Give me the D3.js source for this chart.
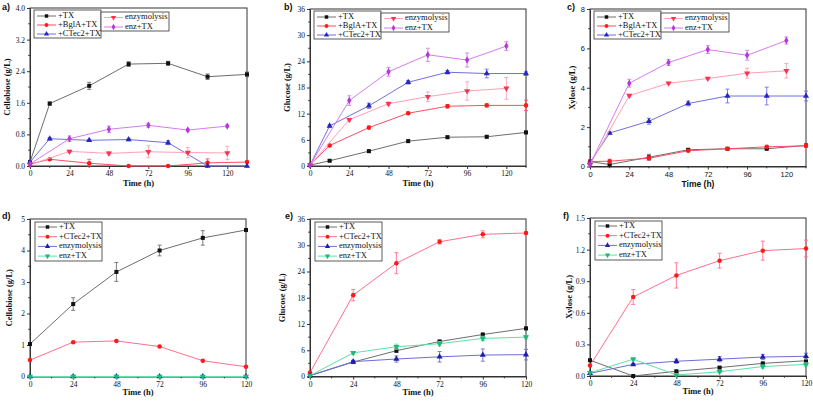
<!DOCTYPE html>
<html><head><meta charset="utf-8">
<script src="https://cdn.jsdelivr.net/npm/d3@7"></script>
<style>body{margin:0;background:#fff}svg{display:block}</style>
</head><body>
<svg id="chart" width="813" height="401"></svg>
<script>
// ---------- data ----------
const timeSparse = [0, 12, 36, 60, 84, 108, 132];
const timeDaily = [0, 24, 48, 72, 96, 120];
const xTickLabels = [0, 24, 48, 72, 96, 120];
const seriesTop = ["+TX", "+BglA+TX", "+CTec2+TX", "enzymolysis", "enz+TX"];
const seriesBottom = ["+TX", "+CTec2+TX", "enzymolysis", "enz+TX"];

// a) cellobiose
const aTX = [0.10, 1.58, 2.03, 2.58, 2.60, 2.26, 2.32];
const aTXErr = [0.02, 0.04, 0.09, 0.06, 0.05, 0.07, 0.06];
const aBglA = [0.05, 0.17, 0.07, 0.00, 0.00, 0.08, 0.10];
const aBglAErr = [0, 0.02, 0.10, 0, 0, 0.10, 0.02];
const aCTec2 = [0.10, 0.69, 0.65, 0.67, 0.59, 0.00, 0.00];
const aCTec2Err = [0, 0.03, 0.02, 0.03, 0.05, 0, 0];
const aEnzy = [0.03, 0.37, 0.32, 0.36, 0.34, 0.33];
const aEnzyErr = [0, 0.03, 0.04, 0.15, 0.13, 0.17];
const aEnzTX = [0.05, 0.69, 0.93, 1.03, 0.91, 1.01];
const aEnzTXErr = [0, 0.07, 0.08, 0.05, 0.03, 0.03];
const aYTicks = [0, 0.8, 1.6, 2.4, 3.2, 4.0];

// b) glucose
const bTX = [0.2, 1.2, 3.4, 5.7, 6.6, 6.7, 7.7];
const bTXErr = [0, 0.2, 0.3, 0.3, 0.3, 0.3, 0.3];
const bBglA = [0.2, 4.7, 8.8, 12.1, 13.7, 13.9, 13.9];
const bBglAErr = [0, 0.3, 0.3, 0.3, 0.4, 0.3, 1.2];
const bCTec2 = [0.2, 9.2, 13.8, 19.2, 21.5, 21.2, 21.2];
const bCTec2Err = [0, 0.3, 0.6, 0.4, 0.4, 1.0, 0.4];
const bEnzy = [0.2, 10.6, 14.3, 15.9, 17.2, 17.8];
const bEnzyErr = [0, 0.3, 0.4, 1.1, 2.1, 2.5];
const bEnzTX = [0.2, 15.0, 21.6, 25.5, 24.3, 27.5];
const bEnzTXErr = [0, 1.1, 1.0, 1.5, 1.6, 1.0];
const bYTicks = [0, 6, 12, 18, 24, 30, 36];

// c) xylose
const cTX = [0.25, 0.10, 0.47, 0.85, 0.90, 0.90, 1.07];
const cTXErr = [0, 0.03, 0.15, 0.05, 0.04, 0.05, 0.05];
const cBglA = [0.25, 0.27, 0.42, 0.80, 0.90, 1.00, 1.05];
const cBglAErr = [0, 0.1, 0.08, 0.05, 0.04, 0.04, 0.05];
const cCTec2 = [0.20, 1.70, 2.30, 3.20, 3.58, 3.58, 3.58];
const cCTec2Err = [0, 0.05, 0.15, 0.12, 0.35, 0.45, 0.25];
const cEnzy = [0.10, 3.60, 4.23, 4.47, 4.74, 4.86];
const cEnzyErr = [0, 0.05, 0.06, 0.06, 0.25, 0.37];
const cEnzTX = [0.10, 4.23, 5.28, 5.94, 5.65, 6.40];
const cEnzTXErr = [0, 0.20, 0.15, 0.20, 0.25, 0.18];
const cYTicks = [0, 2, 4, 6, 8];

// d) cellobiose
const dTX = [1.03, 2.30, 3.32, 4.00, 4.40, 4.65];
const dTXErr = [0, 0.20, 0.30, 0.17, 0.23, 0.05];
const dCTec2 = [0.52, 1.09, 1.13, 0.95, 0.50, 0.31];
const dCTec2Err = [0, 0.02, 0.02, 0.02, 0.02, 0.02];
const dEnzy = [0, 0, 0, 0, 0, 0];
const dEnzTX = [0, 0, 0, 0, 0, 0];
const dYTicks = [0, 1, 2, 3, 4, 5];

// e) glucose
const eTX = [0.2, 3.3, 5.9, 8.0, 9.6, 11.0];
const eTXErr = [0, 0.2, 0.4, 0.3, 0.3, 0.3];
const eCTec2 = [0.9, 18.6, 25.9, 30.8, 32.5, 32.8];
const eCTec2Err = [0, 1.3, 2.4, 0.5, 0.8, 0.3];
const eEnzy = [0.2, 3.4, 4.0, 4.5, 4.9, 5.0];
const eEnzyErr = [0, 0.3, 0.7, 1.2, 1.4, 1.2];
const eEnzTX = [0.2, 5.4, 6.8, 7.5, 8.7, 9.0];
const eEnzTXErr = [0, 0.3, 0.6, 0.5, 0.5, 0.4];
const eYTicks = [0, 6, 12, 18, 24, 30, 36];

// f) xylose
const fTX = [0.15, 0.00, 0.045, 0.08, 0.12, 0.145];
const fTXErr = [0, 0, 0.01, 0.01, 0.01, 0.01];
const fCTec2 = [0.10, 0.75, 0.955, 1.095, 1.19, 1.21];
const fCTec2Err = [0, 0.07, 0.12, 0.07, 0.09, 0.08];
const fEnzy = [0.025, 0.11, 0.14, 0.16, 0.18, 0.187];
const fEnzyErr = [0, 0.01, 0.02, 0.025, 0.025, 0.03];
const fEnzTX = [0.03, 0.16, 0.01, 0.04, 0.09, 0.11];
const fEnzTXErr = [0, 0.015, 0.005, 0.01, 0.015, 0.015];
const fYTicks = [0, 0.3, 0.6, 0.9, 1.2, 1.5];

// ---------- styles ----------
const styleTop = {
  "+TX": {line: "#6e6e6e", mark: "#111", sym: d3.symbolSquare},
  "+BglA+TX": {line: "#ff4d66", mark: "#ff1a1a", sym: d3.symbolCircle},
  "+CTec2+TX": {line: "#7070e0", mark: "#2626c0", sym: d3.symbolTriangle},
  "enzymolysis": {line: "#ffa0b4", mark: "#ff3050", sym: "down"},
  "enz+TX": {line: "#d47cf0", mark: "#b23ad6", sym: d3.symbolDiamond}
};
const styleBottom = {
  "+TX": {line: "#6e6e6e", mark: "#111", sym: d3.symbolSquare},
  "+CTec2+TX": {line: "#ff6f90", mark: "#ff1a1a", sym: d3.symbolCircle},
  "enzymolysis": {line: "#6d6dd8", mark: "#1e1ea6", sym: d3.symbolTriangle},
  "enz+TX": {line: "#5fe0a8", mark: "#1fb878", sym: "down"}
};

function ser(name, x, y, e) { return {name, x, y, e}; }

const panels = [
  {label: "a)", lx: 2, ly: 10, left: 30, right: 247, top: 8, bottom: 166, xMax: 132,
   yTicks: aYTicks, fmt: d3.format(".1f"), yTitle: "Cellobiose (g/L)", yTitleX: 8, sans: false, style: styleTop, top3: true,
   series: [ser("+TX", timeSparse, aTX, aTXErr), ser("+BglA+TX", timeSparse, aBglA, aBglAErr),
            ser("+CTec2+TX", timeSparse, aCTec2, aCTec2Err), ser("enzymolysis", timeDaily, aEnzy, aEnzyErr),
            ser("enz+TX", timeDaily, aEnzTX, aEnzTXErr)]},
  {label: "b)", lx: 284, ly: 10, left: 310, right: 526, top: 9, bottom: 166, xMax: 132,
   yTicks: bYTicks, fmt: d3.format("d"), yTitle: "Glucose (g/L)", yTitleX: 288, sans: false, style: styleTop, top3: true,
   series: [ser("+TX", timeSparse, bTX, bTXErr), ser("+BglA+TX", timeSparse, bBglA, bBglAErr),
            ser("+CTec2+TX", timeSparse, bCTec2, bCTec2Err), ser("enzymolysis", timeDaily, bEnzy, bEnzyErr),
            ser("enz+TX", timeDaily, bEnzTX, bEnzTXErr)]},
  {label: "c)", lx: 567, ly: 10, left: 590, right: 806, top: 9, bottom: 166.5, xMax: 132,
   yTicks: cYTicks, fmt: d3.format("d"), yTitle: "Xylose (g/L)", yTitleX: 573, sans: true, style: styleTop, top3: true,
   series: [ser("+TX", timeSparse, cTX, cTXErr), ser("+BglA+TX", timeSparse, cBglA, cBglAErr),
            ser("+CTec2+TX", timeSparse, cCTec2, cCTec2Err), ser("enzymolysis", timeDaily, cEnzy, cEnzyErr),
            ser("enz+TX", timeDaily, cEnzTX, cEnzTXErr)]},
  {label: "d)", lx: 2, ly: 219, left: 30, right: 246, top: 219, bottom: 376.5, xMax: 120,
   yTicks: dYTicks, fmt: d3.format("d"), yTitle: "Cellobiose (g/L)", yTitleX: 10, sans: false, style: styleBottom, top3: false,
   series: [ser("+TX", timeDaily, dTX, dTXErr), ser("+CTec2+TX", timeDaily, dCTec2, dCTec2Err),
            ser("enzymolysis", timeDaily, dEnzy, null), ser("enz+TX", timeDaily, dEnzTX, null)]},
  {label: "e)", lx: 285, ly: 219, left: 310, right: 526, top: 219, bottom: 376.5, xMax: 120,
   yTicks: eYTicks, fmt: d3.format("d"), yTitle: "Glucose (g/L)", yTitleX: 283, sans: false, style: styleBottom, top3: false,
   series: [ser("+TX", timeDaily, eTX, eTXErr), ser("+CTec2+TX", timeDaily, eCTec2, eCTec2Err),
            ser("enzymolysis", timeDaily, eEnzy, eEnzyErr), ser("enz+TX", timeDaily, eEnzTX, eEnzTXErr)]},
  {label: "f)", lx: 563, ly: 219, left: 590, right: 806, top: 218, bottom: 376, xMax: 120,
   yTicks: fYTicks, fmt: d3.format(".1f"), yTitle: "Xylose (g/L)", yTitleX: 570, sans: false, style: styleBottom, top3: false,
   series: [ser("+TX", timeDaily, fTX, fTXErr), ser("+CTec2+TX", timeDaily, fCTec2, fCTec2Err),
            ser("enzymolysis", timeDaily, fEnzy, fEnzyErr), ser("enz+TX", timeDaily, fEnzTX, fEnzTXErr)]}
];

const svg = d3.select("#chart");
const SERIF = "'Liberation Serif','Times New Roman',serif";
const SANS = "'Liberation Sans',Arial,sans-serif";

function symPath(sym, size) {
  if (sym === "down") return d3.symbol(d3.symbolTriangle, size)();
  return d3.symbol(sym, size)();
}
function drawMarker(g, sym, x, y, color, size) {
  return g.append("path").attr("d", symPath(sym, size)).attr("fill", color)
    .attr("transform", `translate(${x},${y})` + (sym === "down" ? " rotate(180)" : ""));
}

panels.forEach(P => {
  const g = svg.append("g");
  const x = d3.scaleLinear().domain([0, P.xMax]).range([P.left, P.right]);
  const yMax = P.yTicks[P.yTicks.length - 1];
  const y = d3.scaleLinear().domain([0, yMax]).range([P.bottom, P.top]);

  // frame
  g.append("rect").attr("x", P.left).attr("y", P.top).attr("width", P.right - P.left)
    .attr("height", P.bottom - P.top).attr("fill", "none").attr("stroke", "#333").attr("stroke-width", 1);

  // x axis
  const xAx = d3.axisBottom(x).tickValues(xTickLabels).tickSize(3).tickSizeOuter(0).tickPadding(2).tickFormat(d3.format("d"));
  const xg = g.append("g").attr("transform", `translate(0,${P.bottom})`).call(xAx);
  xg.select(".domain").attr("stroke", "#333");
  xg.selectAll("line").attr("stroke", "#333");
  xg.selectAll("text").attr("font-family", P.sans ? SANS : SERIF).attr("font-size", 7.5).attr("fill", "#111");
  const xMinor = d3.range(12, P.xMax + 0.1, 24);
  g.append("g").selectAll("line").data(xMinor).join("line")
    .attr("x1", d => x(d)).attr("x2", d => x(d)).attr("y1", P.bottom).attr("y2", P.bottom + 1.8).attr("stroke", "#333");

  // y axis
  const yAx = d3.axisLeft(y).tickValues(P.yTicks).tickSize(3).tickSizeOuter(0).tickPadding(2).tickFormat(P.fmt);
  const yg = g.append("g").attr("transform", `translate(${P.left},0)`).call(yAx);
  yg.select(".domain").attr("stroke", "#333");
  yg.selectAll("line").attr("stroke", "#333");
  yg.selectAll("text").attr("font-family", P.sans ? SANS : SERIF).attr("font-size", 7.5).attr("fill", "#111");
  const step = P.yTicks[1] - P.yTicks[0];
  const yMinor = P.yTicks.slice(0, -1).map(v => v + step / 2);
  g.append("g").selectAll("line").data(yMinor).join("line")
    .attr("x1", P.left - 1.8).attr("x2", P.left).attr("y1", d => y(d)).attr("y2", d => y(d)).attr("stroke", "#333");

  // titles
  g.append("text").attr("x", (P.left + P.right) / 2).attr("y", P.bottom + (P.top3 ? 20 : 18))
    .attr("text-anchor", "middle").attr("font-family", P.sans ? SANS : SERIF).attr("font-weight", "bold")
    .attr("font-size", 8.5).attr("fill", "#111").text("Time (h)");
  g.append("text").attr("transform", `translate(${P.yTitleX},${(P.top + P.bottom) / 2}) rotate(-90)`)
    .attr("text-anchor", "middle").attr("dominant-baseline", "middle").attr("font-family", SERIF).attr("font-weight", "bold")
    .attr("font-size", 8.5).attr("fill", "#111").text(P.yTitle);
  g.append("text").attr("x", P.lx).attr("y", P.ly).attr("font-family", SANS).attr("font-weight", "bold")
    .attr("font-size", 9).attr("fill", "#111").text(P.label);

  // series
  P.series.forEach(S => {
    const st = P.style[S.name];
    const pts = S.x.map((t, i) => ({t, v: S.y[i], e: S.e ? S.e[i] : 0}));
    g.append("path").datum(pts).attr("fill", "none").attr("stroke", st.line).attr("stroke-width", 1)
      .attr("d", d3.line().x(d => x(d.t)).y(d => y(d.v)));
    pts.forEach(d => {
      if (d.e > 0) {
        const cx = x(d.t), y1 = y(d.v + d.e), y2 = y(Math.max(0, d.v - d.e));
        g.append("line").attr("x1", cx).attr("x2", cx).attr("y1", y1).attr("y2", y2).attr("stroke", st.line).attr("stroke-width", 0.9);
        [y1, y2].forEach(yy => g.append("line").attr("x1", cx - 2).attr("x2", cx + 2).attr("y1", yy).attr("y2", yy)
          .attr("stroke", st.line).attr("stroke-width", 0.9));
      }
    });
    pts.forEach(d => drawMarker(g, st.sym, x(d.t), y(d.v), st.mark, 16));
  });

  // legend
  const names = P.series.map(s => s.name);
  const L = P.left, T = P.top;
  function legendEntry(name, lx0, yy) {
    const st = P.style[name];
    g.append("line").attr("x1", lx0).attr("x2", lx0 + 19).attr("y1", yy).attr("y2", yy).attr("stroke", st.line).attr("stroke-width", 1);
    drawMarker(g, st.sym, lx0 + 9.5, yy, st.mark, 12);
    g.append("text").attr("x", lx0 + 21).attr("y", yy).attr("dominant-baseline", "middle")
      .attr("font-family", SERIF).attr("font-size", 8.5).attr("fill", "#111").text(name);
  }
  if (P.top3) {
    g.append("rect").attr("x", L + 4).attr("y", T + 2).attr("width", 67).attr("height", 28)
      .attr("fill", "#fff").attr("stroke", "#333").attr("stroke-width", 0.8);
    g.append("rect").attr("x", L + 71).attr("y", T + 4).attr("width", 68).attr("height", 19)
      .attr("fill", "#fff").attr("stroke", "#333").attr("stroke-width", 0.8);
    names.slice(0, 3).forEach((n, i) => legendEntry(n, L + 7, T + 8 + i * 9));
    names.slice(3).forEach((n, i) => legendEntry(n, L + 74, T + 9.5 + i * 9.5));
  } else {
    g.append("rect").attr("x", L + 5).attr("y", T + 3).attr("width", 67).attr("height", 39)
      .attr("fill", "#fff").attr("stroke", "#333").attr("stroke-width", 0.8);
    names.forEach((n, i) => legendEntry(n, L + 8, T + 8 + i * 9.7));
  }
});
</script>
</body></html>
